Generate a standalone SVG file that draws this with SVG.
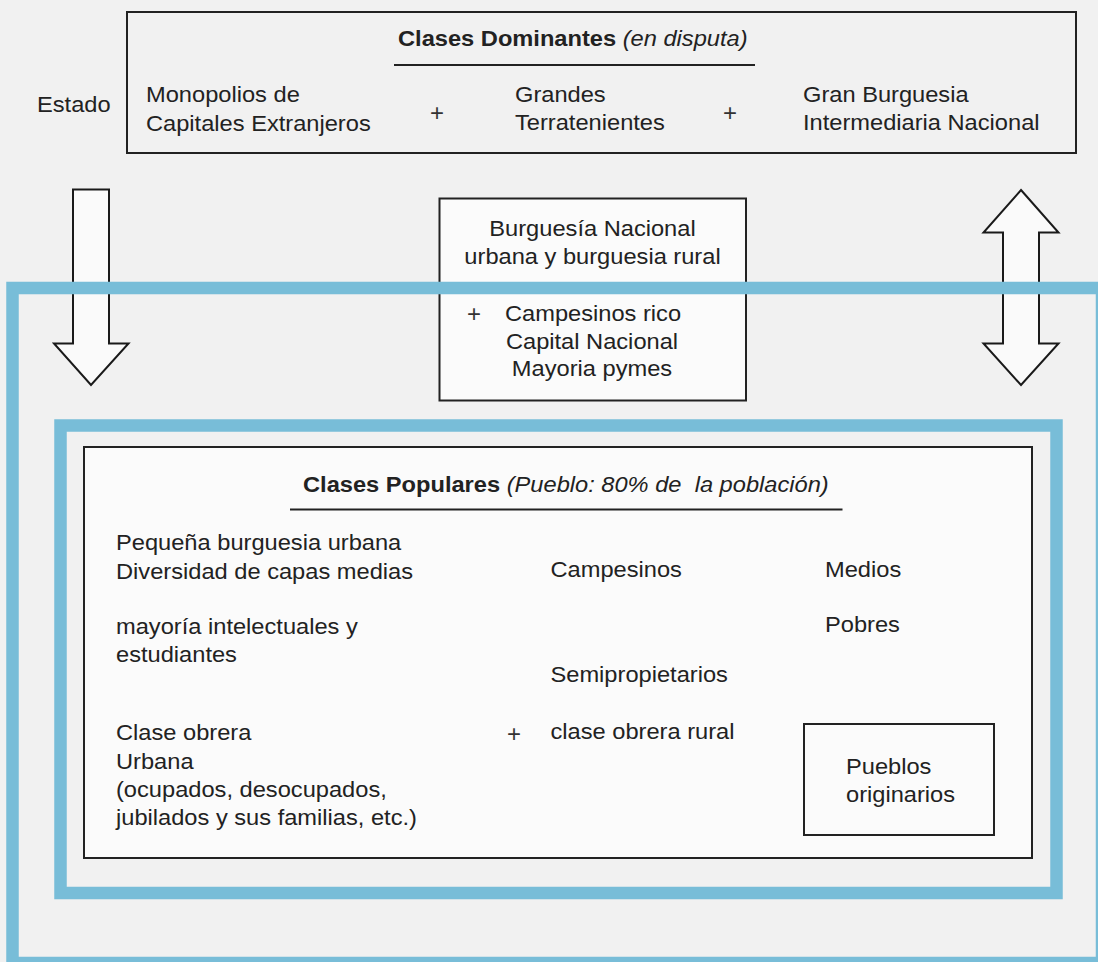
<svg xmlns="http://www.w3.org/2000/svg" width="1098" height="962" viewBox="0 0 1098 962">
<style>
.t{font-family:"Liberation Sans",Arial,Helvetica,sans-serif;font-size:21.5px;fill:#222}
.b{font-weight:bold}
.i{font-style:italic}
.m{text-anchor:middle}
.plus{font-family:"Liberation Sans",Arial,sans-serif;font-size:24px;fill:#333;text-anchor:middle}
.box{fill:#fbfbfb;stroke:#222;stroke-width:2}
.arrow{fill:#fafafa;stroke:#1a1a1a;stroke-width:2;stroke-linejoin:miter}
.blue{fill:none;stroke:#78bdd8;stroke-width:12.5}
.rule{stroke:#222;stroke-width:2}
</style>
<rect width="1098" height="962" fill="#f1f1f1"/>

<g id="clases-dominantes">
<rect x="127" y="12" width="949" height="141" fill="#f1f1f1" stroke="#222" stroke-width="2"/>
<text class="t" transform="translate(398 46) scale(1.1 1)"><tspan class="b">Clases Dominantes </tspan><tspan class="i">(en disputa)</tspan></text>
<line class="rule" x1="394" y1="65" x2="755" y2="65"/>
<text class="t" transform="translate(146 102) scale(1.1 1)">Monopolios de</text>
<text class="t" transform="translate(146 131) scale(1.1 1)">Capitales Extranjeros</text>
<text class="plus" x="437" y="121">+</text>
<text class="t" transform="translate(515 102) scale(1.1 1)">Grandes</text>
<text class="t" transform="translate(515 130) scale(1.1 1)">Terratenientes</text>
<text class="plus" x="730" y="121">+</text>
<text class="t" transform="translate(803 102) scale(1.1 1)">Gran Burguesia</text>
<text class="t" transform="translate(803 130) scale(1.1 1)">Intermediaria Nacional</text>
</g>

<g id="estado">
<text class="t" transform="translate(37 112) scale(1.1 1)">Estado</text>
</g>

<g id="connectors">
<polygon class="arrow" points="73,189.5 109,189.5 109,343.5 128.5,343.5 91,385 54,343.5 73,343.5"/>
<polygon class="arrow" points="1021,190 1058.5,232.5 1039,232.5 1039,343.5 1058.5,343.5 1021,385 983.5,343.5 1003,343.5 1003,232.5 983.5,232.5"/>
</g>

<g id="burguesia-nacional">
<rect class="box" x="439.5" y="198.5" width="306.5" height="202"/>
<text class="t m" transform="translate(592.5 236) scale(1.1 1)">Burguesía Nacional</text>
<text class="t m" transform="translate(592.5 264) scale(1.1 1)">urbana y burguesia rural</text>
<text class="plus" x="474" y="322">+</text>
<text class="t m" transform="translate(593 321) scale(1.1 1)">Campesinos rico</text>
<text class="t m" transform="translate(592 348.5) scale(1.1 1)">Capital Nacional</text>
<text class="t m" transform="translate(592 375.5) scale(1.1 1)">Mayoria pymes</text>
</g>

<g id="marco-exterior">
<rect class="blue" x="12.5" y="288" width="1089.5" height="675"/>
</g>

<g id="marco-interior">
<rect class="blue" x="60.5" y="425.5" width="996" height="467.5"/>
</g>

<g id="clases-populares">
<rect class="box" x="84" y="447" width="948" height="411"/>
<text class="t" xml:space="preserve" transform="translate(303 492) scale(1.1 1)"><tspan class="b">Clases Populares </tspan><tspan class="i">(Pueblo: 80% de  la población)</tspan></text>
<line class="rule" x1="290" y1="509.5" x2="842.5" y2="509.5"/>
<text class="t" transform="translate(116 550) scale(1.1 1)">Pequeña burguesia urbana</text>
<text class="t" transform="translate(116 578.5) scale(1.1 1)">Diversidad de capas medias</text>
<text class="t" transform="translate(116 634) scale(1.1 1)">mayoría intelectuales y</text>
<text class="t" transform="translate(116 662) scale(1.1 1)">estudiantes</text>
<text class="t" transform="translate(116 740) scale(1.1 1)">Clase obrera</text>
<text class="t" transform="translate(116 768.5) scale(1.1 1)">Urbana</text>
<text class="t" transform="translate(116 797) scale(1.1 1)">(ocupados, desocupados,</text>
<text class="t" transform="translate(116 825) scale(1.1 1)">jubilados y sus familias, etc.)</text>
<text class="plus" x="514" y="742">+</text>
<text class="t" transform="translate(550.5 577) scale(1.1 1)">Campesinos</text>
<text class="t" transform="translate(550.5 682) scale(1.1 1)">Semipropietarios</text>
<text class="t" transform="translate(550.5 738.5) scale(1.1 1)">clase obrera rural</text>
<text class="t" transform="translate(825 577) scale(1.1 1)">Medios</text>
<text class="t" transform="translate(825 632) scale(1.1 1)">Pobres</text>
</g>

<g id="pueblos-originarios">
<rect class="box" x="804" y="724" width="190" height="111"/>
<text class="t" transform="translate(846 773.5) scale(1.1 1)">Pueblos</text>
<text class="t" transform="translate(846 802) scale(1.1 1)">originarios</text>
</g>
</svg>
